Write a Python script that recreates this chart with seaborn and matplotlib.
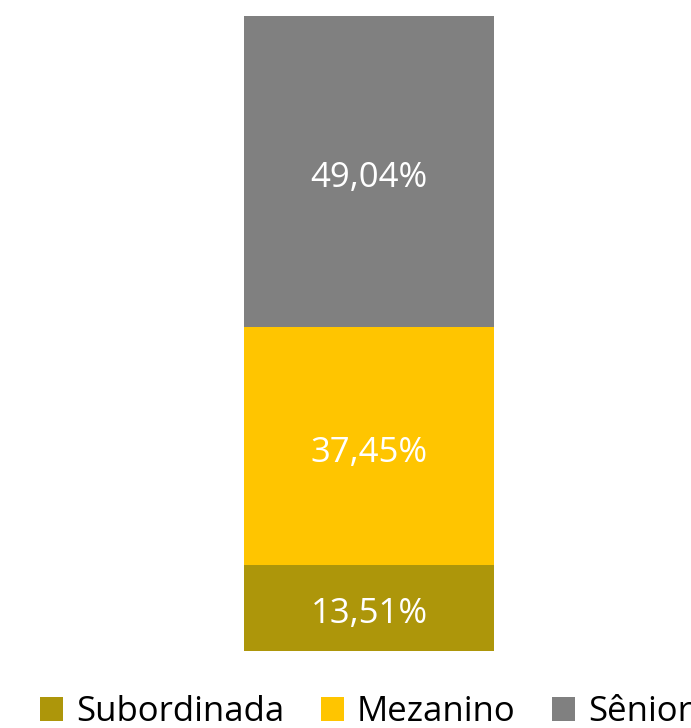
import matplotlib
matplotlib.use("Agg")
import matplotlib.pyplot as plt
import seaborn as sns
import pandas as pd
from matplotlib.patches import Patch

categories = ["Subordinada", "Mezanino", "Sênior"]
values = [13.51, 37.45, 49.04]
labels = ["13,51%", "37,45%", "49,04%"]
colors = ["#AD960A", "#FFC500", "#808080"]

sns.set_theme(style="white")
plt.rcParams['font.family'] = ['Open Sans', 'DejaVu Sans']
plt.rcParams['text.color'] = 'black'

fig = plt.figure(figsize=(6.91, 7.28), dpi=100)
ax = fig.add_axes([244/691, (728-651)/728, 250/691, 635/728])

cum = []
s = 0
for v in values:
    s += v
    cum.append(s)

# draw from top (total) down so lower segments overlay
for i in reversed(range(len(values))):
    df = pd.DataFrame({"x": ["a"], "y": [cum[i]]})
    sns.barplot(data=df, x="x", y="y", color=colors[i], width=1.0,
                saturation=1, ax=ax, edgecolor="none", linewidth=0)

ax.set_xlim(-0.5, 0.5)
ax.set_ylim(0, 100)
ax.axis("off")

bottom = 0
for v, lab in zip(values, labels):
    ax.annotate(lab, (0, bottom + v / 2), xytext=(0, -4.5), textcoords="offset points",
                ha="center", va="center", color="white", fontsize=25)
    bottom += v

fs = 25
handles = [Patch(facecolor=c, edgecolor="none") for c in colors]
fig.legend(handles, categories, loc="center left",
           bbox_to_anchor=(40/691, (728-712)/728),
           ncol=3, frameon=False, fontsize=fs, handlelength=0.66, handleheight=0.66,
           handletextpad=0.38, columnspacing=1.05, borderaxespad=0, borderpad=0,
           labelcolor="black")

fig.savefig("out.png", dpi=100)
